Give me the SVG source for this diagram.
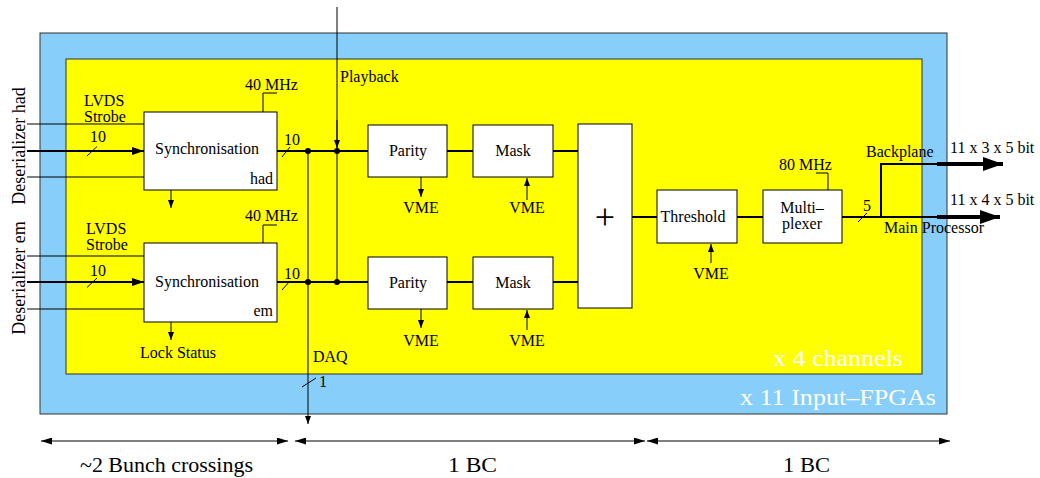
<svg xmlns="http://www.w3.org/2000/svg" width="1040" height="478" viewBox="0 0 1040 478">
<style>
text{font-family:"Liberation Serif","Times New Roman",serif;font-size:16px;fill:#000}
.box{fill:#fff;stroke:#000;stroke-width:1}
.ln{stroke:#000;stroke-width:1;fill:none}
.th{stroke:#000;stroke-width:2;fill:none}
.tk{stroke:#000;stroke-width:4;fill:none}
.mid{text-anchor:middle}
.wt{fill:#fff;font-size:24px}
.big{font-size:20px}
</style>
<defs>
<marker id="ah" viewBox="0 0 12 8" refX="12" refY="4" markerWidth="12" markerHeight="8" markerUnits="userSpaceOnUse" orient="auto"><path d="M0,0 L12,4 L0,8 z" fill="#000"/></marker>
<marker id="as" viewBox="0 0 8 6" refX="8" refY="3" markerWidth="8" markerHeight="6" markerUnits="userSpaceOnUse" orient="auto"><path d="M0,0 L8,3 L0,6 z" fill="#000"/></marker>
<marker id="ao" viewBox="0 0 20 14" refX="20" refY="7" markerWidth="20" markerHeight="14" markerUnits="userSpaceOnUse" orient="auto"><path d="M0,0 L20,7 L0,14 z" fill="#000"/></marker>
<marker id="ad" viewBox="0 0 11 7" refX="11" refY="3.5" markerWidth="11" markerHeight="7" markerUnits="userSpaceOnUse" orient="auto-start-reverse"><path d="M0,0 L11,3.5 L0,7 z" fill="#000"/></marker>
</defs>

<g id="fpga">
<rect x="40" y="33" width="907" height="381" fill="#87CEFA" stroke="#333" stroke-width="1"/>
<text class="wt" x="740" y="405" textLength="196" lengthAdjust="spacingAndGlyphs">x 11 Input–FPGAs</text>
</g>
<g id="channel">
<rect x="66" y="59" width="856" height="315" fill="#FFFF00" stroke="#333" stroke-width="1"/>
<text class="wt" x="773" y="366" textLength="130" lengthAdjust="spacingAndGlyphs">x 4 channels</text>
</g>

<g id="connectors">
<line class="ln" x1="27" y1="124" x2="144" y2="124"/>
<line class="th" x1="27" y1="151" x2="144" y2="151" marker-end="url(#ah)"/>
<line class="ln" x1="27" y1="177" x2="144" y2="177"/>
<line class="ln" x1="87" y1="156" x2="97" y2="146.5"/>
<line class="ln" x1="27" y1="256" x2="144" y2="256"/>
<line class="th" x1="27" y1="282" x2="144" y2="282" marker-end="url(#ah)"/>
<line class="ln" x1="27" y1="309" x2="144" y2="309"/>
<line class="ln" x1="87" y1="287.5" x2="97" y2="278"/>
<polyline class="ln" points="277,93 263,93 263,112"/>
<polyline class="ln" points="277,225 263,225 263,243"/>
<polyline class="ln" points="816,173 828,173 828,190"/>
<line class="ln" x1="171" y1="190" x2="171" y2="208" marker-end="url(#as)"/>
<line class="ln" x1="171" y1="322" x2="171" y2="340" marker-end="url(#as)"/>
<line class="th" x1="277" y1="151" x2="368" y2="151"/>
<line class="th" x1="277" y1="282" x2="368" y2="282"/>
<line class="ln" x1="282" y1="157" x2="290" y2="147"/>
<line class="ln" x1="282" y1="290" x2="290" y2="281"/>
<line class="th" x1="447" y1="151" x2="473" y2="151"/>
<line class="th" x1="553" y1="151" x2="578" y2="151"/>
<line class="th" x1="447" y1="282" x2="473" y2="282"/>
<line class="th" x1="553" y1="282" x2="578" y2="282"/>
<line class="ln" x1="421" y1="177" x2="421" y2="197" marker-end="url(#as)"/>
<line class="ln" x1="421" y1="309" x2="421" y2="328" marker-end="url(#as)"/>
<line class="ln" x1="527" y1="200" x2="527" y2="178" marker-end="url(#as)"/>
<line class="ln" x1="527" y1="330" x2="527" y2="310" marker-end="url(#as)"/>
<line class="ln" x1="711" y1="263" x2="711" y2="244" marker-end="url(#as)"/>
<line class="ln" x1="337" y1="7" x2="337" y2="282"/>
<line class="ln" x1="337" y1="120" x2="337" y2="148" marker-end="url(#as)"/>
<line class="ln" x1="308" y1="151" x2="308" y2="424" marker-end="url(#as)"/>
<line class="ln" x1="302" y1="387" x2="316" y2="378"/>
<circle cx="308" cy="151" r="3"/>
<circle cx="337" cy="151" r="3"/>
<circle cx="308" cy="282" r="3"/>
<circle cx="337" cy="282" r="3"/>
<line class="th" x1="632" y1="217" x2="657" y2="217"/>
<line class="th" x1="737" y1="217" x2="763" y2="217"/>
<line class="th" x1="842" y1="217" x2="938" y2="217"/>
<line class="tk" x1="937" y1="217" x2="1000" y2="217" marker-end="url(#ao)"/>
<polyline class="th" points="881,217 881,164 938,164"/>
<line class="tk" x1="937" y1="164" x2="1003" y2="164" marker-end="url(#ao)"/>
<line class="ln" x1="858" y1="222" x2="867" y2="213"/>
<line class="ln" x1="41" y1="441" x2="288" y2="441" marker-start="url(#ad)" marker-end="url(#ad)"/>
<line class="ln" x1="295" y1="441" x2="645" y2="441" marker-start="url(#ad)" marker-end="url(#ad)"/>
<line class="ln" x1="647" y1="441" x2="950" y2="441" marker-start="url(#ad)" marker-end="url(#ad)"/>
</g>

<g id="labels">
<text transform="translate(25,146) rotate(-90)" text-anchor="middle" style="font-size:18px">Deserializer had</text>
<text transform="translate(25,278) rotate(-90)" text-anchor="middle" style="font-size:18px">Deserializer em</text>
<text x="84" y="106">LVDS</text>
<text x="84" y="122">Strobe</text>
<text x="90" y="142">10</text>
<text x="86" y="234">LVDS</text>
<text x="86" y="250">Strobe</text>
<text x="90" y="276">10</text>
<text x="245" y="90">40 MHz</text>
<text x="245" y="221">40 MHz</text>
<text x="284" y="145">10</text>
<text x="284" y="279">10</text>
<text x="140" y="358">Lock Status</text>
<text x="340" y="82">Playback</text>
<text x="313" y="362">DAQ</text>
<text x="319" y="387">1</text>
<text class="mid" x="421" y="213">VME</text>
<text class="mid" x="527" y="213">VME</text>
<text class="mid" x="421" y="346">VME</text>
<text class="mid" x="527" y="346">VME</text>
<text class="mid" x="711" y="279">VME</text>
<text x="779" y="170">80 MHz</text>
<text x="863" y="211">5</text>
<text x="866" y="157">Backplane</text>
<text x="950" y="153">11 x 3 x 5 bit</text>
<text x="950" y="205">11 x 4 x 5 bit</text>
<text x="884" y="233">Main Processor</text>
<text class="big" x="80" y="472" textLength="173" lengthAdjust="spacingAndGlyphs">~2 Bunch crossings</text>
<text class="big" x="448" y="472" textLength="49" lengthAdjust="spacingAndGlyphs">1 BC</text>
<text class="big" x="783" y="472" textLength="47" lengthAdjust="spacingAndGlyphs">1 BC</text>
</g>

<g id="sync-had">
<rect class="box" x="144" y="112" width="133" height="78"/>
<text class="mid" x="207" y="154">Synchronisation</text>
<text x="273" y="184" text-anchor="end">had</text>
</g>
<g id="sync-em">
<rect class="box" x="144" y="243" width="133" height="79"/>
<text class="mid" x="207" y="287">Synchronisation</text>
<text x="273" y="316" text-anchor="end">em</text>
</g>
<g id="parity-had">
<rect class="box" x="368" y="125" width="79" height="52"/>
<text class="mid" x="408" y="156">Parity</text>
</g>
<g id="mask-had">
<rect class="box" x="473" y="125" width="80" height="52"/>
<text class="mid" x="513" y="156">Mask</text>
</g>
<g id="parity-em">
<rect class="box" x="368" y="257" width="79" height="52"/>
<text class="mid" x="408" y="288">Parity</text>
</g>
<g id="mask-em">
<rect class="box" x="473" y="257" width="80" height="52"/>
<text class="mid" x="513" y="288">Mask</text>
</g>
<g id="adder">
<rect class="box" x="578" y="124" width="54" height="184"/>
<text class="mid" x="605" y="229" style="font-size:36px">+</text>
</g>
<g id="threshold">
<rect class="box" x="657" y="190" width="80" height="53"/>
<text class="mid" x="693" y="222">Threshold</text>
</g>
<g id="multiplexer">
<rect class="box" x="763" y="190" width="79" height="53"/>
<text class="mid" x="802" y="213">Multi–</text>
<text class="mid" x="802" y="229">plexer</text>
</g>
</svg>
